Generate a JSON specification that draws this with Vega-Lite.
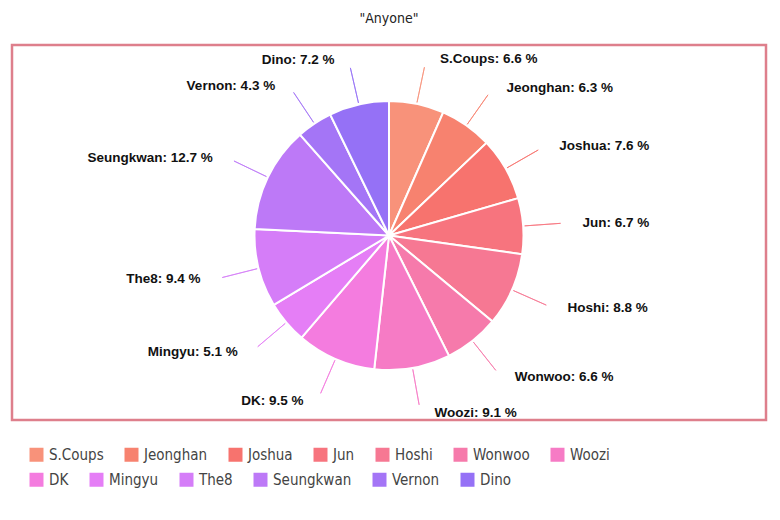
{
  "$schema": "https://vega.github.io/schema/vega-lite/v6.json",
  "width": 754,
  "height": 375,
  "autosize": {"type": "none"},
  "padding": {"left": 12, "top": 45, "right": 14, "bottom": 100},
  "background": "white",
  "view": {"stroke": "#DE7F8C", "strokeWidth": 2.5, "fill": "white"},
  "title": {
    "text": "\"Anyone\"",
    "fontSize": 14,
    "font": "Liberation Sans Narrow, DejaVu Sans Condensed, Liberation Sans",
    "fontWeight": "normal",
    "color": "#222222",
    "offset": 19,
    "anchor": "middle"
  },
  "config": {
    "view": {"stroke": "#DE7F8C", "strokeWidth": 2.5},
    "legend": {
      "orient": "none",
      "direction": "horizontal",
      "symbolType": "square",
      "symbolSize": 196,
      "symbolStrokeWidth": 0,
      "symbolOpacity": 1,
      "labelFontSize": 15,
      "labelFont": "Liberation Sans Narrow, DejaVu Sans Condensed, Liberation Sans",
      "labelColor": "#444444",
      "labelOffset": 5,
      "columnPadding": 20,
      "title": null,
      "padding": 0
    }
  },
  "data": {
    "values": [
      {"idx": 1, "name": "S.Coups", "value": 6.6},
      {"idx": 2, "name": "Jeonghan", "value": 6.3},
      {"idx": 3, "name": "Joshua", "value": 7.6},
      {"idx": 4, "name": "Jun", "value": 6.7},
      {"idx": 5, "name": "Hoshi", "value": 8.8},
      {"idx": 6, "name": "Wonwoo", "value": 6.6},
      {"idx": 7, "name": "Woozi", "value": 9.1},
      {"idx": 8, "name": "DK", "value": 9.5},
      {"idx": 9, "name": "Mingyu", "value": 5.1},
      {"idx": 10, "name": "The8", "value": 9.4},
      {"idx": 11, "name": "Seungkwan", "value": 12.7},
      {"idx": 12, "name": "Vernon", "value": 4.3},
      {"idx": 13, "name": "Dino", "value": 7.2}
    ]
  },
  "transform": [
    {"stack": "value", "groupby": [], "sort": [{"field": "idx"}], "offset": "normalize", "as": ["s", "e"]},
    {"calculate": "(datum.s + datum.e) / 2", "as": "mid"},
    {"calculate": "datum.name + ': ' + format(datum.value, '.1f') + ' %'", "as": "label"}
  ],
  "layer": [
    {
      "transform": [{"filter": "datum.idx >= 8"}],
      "mark": {"type": "arc", "radius": 134.5, "stroke": "white", "strokeWidth": 2, "yOffset": 3},
      "encoding": {
        "theta": {"field": "s", "type": "quantitative", "stack": null, "scale": {"domain": [0, 1]}},
        "theta2": {"field": "e"},
        "fill": {
          "field": "name",
          "type": "nominal",
          "scale": {
            "domain": ["DK", "Mingyu", "The8", "Seungkwan", "Vernon", "Dino"],
            "range": ["#F47CDF", "#E57EF6", "#D57DF8", "#BD79F7", "#A475F6", "#9571F6"]
          },
          "legend": {
            "legendX": 17,
            "legendY": 427
          }
        }
      }
    },
    {
      "mark": {"type": "arc", "radius": 134.5, "stroke": "white", "strokeWidth": 2, "yOffset": 3},
      "encoding": {
        "theta": {"field": "s", "type": "quantitative", "stack": null},
        "theta2": {"field": "e"},
        "color": {
          "field": "name",
          "type": "nominal",
          "scale": {
            "domain": ["S.Coups", "Jeonghan", "Joshua", "Jun", "Hoshi", "Wonwoo", "Woozi", "DK", "Mingyu", "The8", "Seungkwan", "Vernon", "Dino"],
            "range": ["#F8927A", "#F7826F", "#F7736E", "#F7747E", "#F67893", "#F67AAB", "#F67BC5", "#F47CDF", "#E57EF6", "#D57DF8", "#BD79F7", "#A475F6", "#9571F6"]
          },
          "legend": {
            "legendX": 17,
            "legendY": 402,
            "values": ["S.Coups", "Jeonghan", "Joshua", "Jun", "Hoshi", "Wonwoo", "Woozi"]
          }
        }
      }
    },
    {
      "mark": {"type": "arc", "radius": 172, "radius2": 136, "filled": false, "strokeWidth": 1, "opacity": 0.8, "yOffset": 3},
      "encoding": {
        "theta": {"field": "mid", "type": "quantitative", "stack": null},
        "theta2": {"field": "mid"},
        "color": {"field": "name", "type": "nominal", "legend": null}
      }
    },
    {
      "transform": [{"filter": "datum.mid < 0.5"}],
      "mark": {"type": "text", "radius": 180, "align": "left", "dx": 14, "yOffset": 3, "font": "Liberation Sans", "fontWeight": "bold", "fontSize": 13.5, "color": "#111111"},
      "encoding": {
        "theta": {"field": "mid", "type": "quantitative", "stack": null},
        "text": {"field": "label"}
      }
    },
    {
      "transform": [{"filter": "datum.mid >= 0.5"}],
      "mark": {"type": "text", "radius": 180, "align": "right", "dx": -14, "yOffset": 3, "font": "Liberation Sans", "fontWeight": "bold", "fontSize": 13.5, "color": "#111111"},
      "encoding": {
        "theta": {"field": "mid", "type": "quantitative", "stack": null},
        "text": {"field": "label"}
      }
    }
  ]
}
